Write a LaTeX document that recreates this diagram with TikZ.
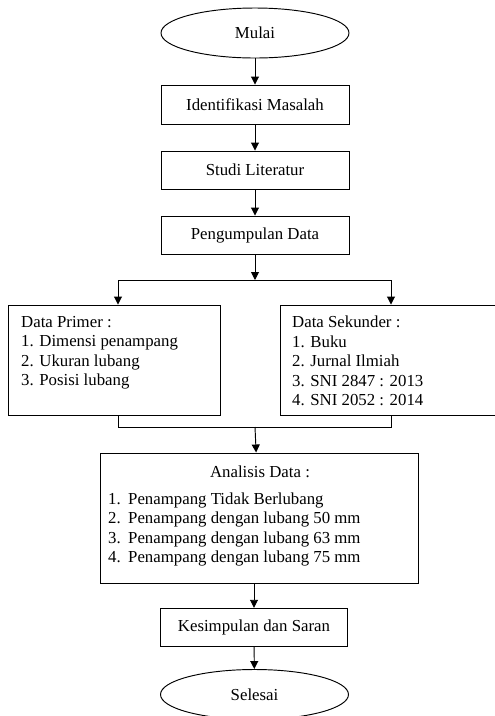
\documentclass[tikz,border=0pt]{standalone}
\usepackage{fontspec}
\setmainfont{Liberation Serif}
\usetikzlibrary{shapes.geometric,arrows.meta}
\begin{document}
\begin{tikzpicture}[x=1pt,y=-1pt,
  every node/.style={font=\fontsize{16.8}{19.6}\selectfont, inner sep=0pt},
  box/.style={draw, rectangle, line width=0.95pt},
  oval/.style={draw, ellipse, line width=0.95pt, minimum width=188pt, minimum height=50pt},
  txt/.style={align=left, anchor=north west},
  arr/.style={-{Triangle[length=8pt,width=8pt]}, line width=0.95pt},
  ln/.style={line width=0.95pt}]
\useasboundingbox (0,0) rectangle (495,716);

\node[oval] (mulai) at (255,33) {Mulai};
\node[box, minimum width=188pt, minimum height=39pt] (ident) at (255,104.5) {Identifikasi Masalah};
\node[box, minimum width=188pt, minimum height=38pt] (studi) at (255,170) {Studi Literatur};
\node[box, minimum width=188pt, minimum height=38pt] (kumpul) at (255,235) {Pengumpulan Data};

\node[box, minimum width=212pt, minimum height=110pt] (primer) at (114,360) {};
\node[txt] (primertext) at (21,315.7) {Data Primer :\\1. Dimensi penampang\\2. Ukuran lubang\\3. Posisi lubang};
\node[box, minimum width=222pt, minimum height=110pt] (sekunder) at (391,360) {};
\node[txt] (sekundertext) at (292,315.7) {Data Sekunder :\\1. Buku\\2. Jurnal Ilmiah\\3. SNI 2847 : 2013\\4. SNI 2052 : 2014};

\node[box, minimum width=318pt, minimum height=130pt] (analisis) at (259,518) {};
\node (analisistitle) at (260,471.7) {Analisis Data :};
\node[txt] (analisislist) at (108,492.3) {\makebox[20pt][l]{1.}Penampang Tidak Berlubang\\
\makebox[20pt][l]{2.}Penampang dengan lubang 50 mm\\
\makebox[20pt][l]{3.}Penampang dengan lubang 63 mm\\
\makebox[20pt][l]{4.}Penampang dengan lubang 75 mm};

\node[box, minimum width=187pt, minimum height=38.5pt] (simpul) at (254,627.5) {Kesimpulan dan Saran};
\node[oval] (selesai) at (254.5,694.5) {Selesai};

\coordinate (split) at (255,280);
\coordinate (lt) at (118,280);
\coordinate (rt) at (391,280);
\coordinate (lb) at (118,427);
\coordinate (rb) at (391,427);
\coordinate (merge) at (255,427);

\draw[arr] (mulai) -- (ident);
\draw[arr] (ident) -- (studi);
\draw[arr] (studi) -- (kumpul);
\draw[arr] (kumpul) -- (split);
\draw[ln] (lt) -- (rt);
\draw[arr] (lt) -- (lt |- primer.north);
\draw[arr] (rt) -- (rt |- sekunder.north);
\draw[ln] (lt |- primer.south) -- (lb) -- (rb) -- (rt |- sekunder.south);
\draw[arr] (merge) -- (analisis);
\draw[arr] (analisis.south -| simpul) -- (simpul);
\draw[arr] (simpul) -- (selesai);
\end{tikzpicture}
\end{document}
